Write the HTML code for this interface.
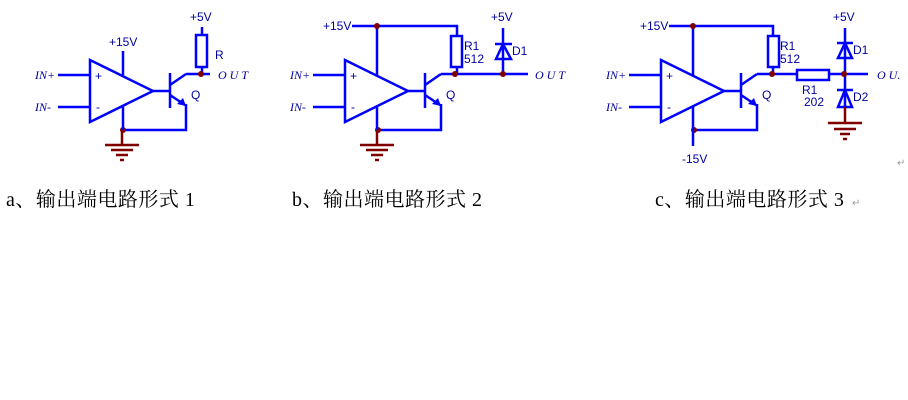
<!DOCTYPE html>
<html><head><meta charset="utf-8"><style>
html,body{margin:0;padding:0;background:#fff;width:908px;height:400px;overflow:hidden}
svg{display:block}
.w{stroke:#0000ff;stroke-width:2.5;fill:none}
.g{stroke:#800000;stroke-width:2.5;fill:none}
.t{font-family:"Liberation Sans",sans-serif;font-size:12px;fill:#0000a0}
.i{font-family:"Liberation Serif",serif;font-style:italic;font-size:12px;fill:#0000a0}
.c{font-family:"Liberation Serif","Noto Serif CJK SC",serif;font-size:20px;fill:#000;letter-spacing:0.5px}
</style></head><body>
<svg width="908" height="400" viewBox="0 0 908 400" xmlns="http://www.w3.org/2000/svg">
<defs>
<g id="core">
<polygon class="w" points="90,60 90,122 153,91"/>
<line class="w" x1="58" y1="75" x2="90" y2="75"/>
<line class="w" x1="58" y1="107" x2="90" y2="107"/>
<text class="i" x="35" y="79">IN+</text>
<text class="i" x="35" y="111">IN-</text>
<text class="t" x="95" y="80">+</text>
<text class="t" x="96" y="111">-</text>
<line class="w" x1="153" y1="91" x2="170" y2="91"/>
<line class="w" x1="170" y1="73" x2="170" y2="108"/>
<polyline class="w" points="170,85 186,74"/>
<polyline class="w" points="170,95 185,105"/>
<polygon points="186,106 177,104 183,98" fill="#0000ff"/>
<polyline class="w" points="186,104 186,130 123,130"/>
<text class="t" x="191" y="99">Q</text>
<circle cx="123" cy="130" r="3" fill="#800000"/>
</g>
<g id="gnd">
<line class="g" x1="0" y1="0" x2="0" y2="15"/>
<line class="g" x1="-17" y1="15" x2="17" y2="15"/>
<line class="g" x1="-11" y1="20" x2="11" y2="20"/>
<line class="g" x1="-6" y1="25" x2="6" y2="25"/>
<line class="g" x1="-2" y1="30" x2="2" y2="30"/>
</g>
</defs>

<use href="#core"/>
<text class="t" x="109" y="46">+15V</text>
<line class="w" x1="123" y1="51" x2="123" y2="75"/>
<line class="w" x1="123" y1="107" x2="123" y2="130"/>
<use href="#gnd" x="122" y="130"/>
<text class="t" x="190" y="21">+5V</text>
<line class="w" x1="202" y1="27" x2="202" y2="35"/>
<rect class="w" x="196" y="35" width="11" height="32"/>
<line class="w" x1="202" y1="67" x2="202" y2="74"/>
<line class="w" x1="186" y1="74" x2="210" y2="74"/>
<circle cx="201" cy="74" r="3" fill="#800000"/>
<text class="t" x="215" y="59">R</text>
<text class="i" x="218" y="79">O U T</text>

<use href="#core" x="255"/>
<text class="t" x="323" y="30">+15V</text>
<polyline class="w" points="352,26 457,26 457,36"/>
<line class="w" x1="377" y1="26" x2="377" y2="75"/>
<circle cx="377" cy="26" r="3" fill="#800000"/>
<rect class="w" x="451" y="36" width="11" height="31"/>
<line class="w" x1="457" y1="67" x2="457" y2="74"/>
<text class="t" x="464" y="50">R1</text>
<text class="t" x="464" y="63">512</text>
<line class="w" x1="441" y1="74" x2="528" y2="74"/>
<circle cx="455" cy="74" r="3" fill="#800000"/>
<text class="t" x="491" y="21">+5V</text>
<line class="w" x1="503" y1="28" x2="503" y2="74"/>
<line class="w" x1="495" y1="44" x2="512" y2="44"/>
<polygon class="w" points="503,44 496,59 511,59"/>
<text class="t" x="512" y="55">D1</text>
<circle cx="503" cy="74" r="3" fill="#800000"/>
<text class="i" x="535" y="79">O U T</text>
<line class="w" x1="377" y1="107" x2="377" y2="130"/>
<use href="#gnd" x="377" y="130"/>

<use href="#core" x="571"/>
<text class="t" x="640" y="30">+15V</text>
<polyline class="w" points="669,26 773,26 773,36"/>
<line class="w" x1="693" y1="26" x2="693" y2="75"/>
<circle cx="693" cy="26" r="3" fill="#800000"/>
<rect class="w" x="768" y="36" width="11" height="31"/>
<line class="w" x1="773" y1="67" x2="773" y2="74"/>
<text class="t" x="780" y="50">R1</text>
<text class="t" x="780" y="63">512</text>
<line class="w" x1="757" y1="74" x2="797" y2="74"/>
<rect class="w" x="797" y="70" width="32" height="10"/>
<line class="w" x1="829" y1="74" x2="868" y2="74"/>
<circle cx="772" cy="74" r="3" fill="#800000"/>
<text class="t" x="802" y="94">R1</text>
<text class="t" x="804" y="106">202</text>
<text class="t" x="833" y="21">+5V</text>
<line class="w" x1="845" y1="28" x2="845" y2="107"/>
<line class="w" x1="837" y1="43" x2="853" y2="43"/>
<polygon class="w" points="845,43 838,58 852,58"/>
<text class="t" x="853" y="54">D1</text>
<line class="w" x1="837" y1="90" x2="853" y2="90"/>
<polygon class="w" points="845,90 838,107 852,107"/>
<text class="t" x="853" y="101">D2</text>
<circle cx="844" cy="74" r="3" fill="#800000"/>
<text class="i" x="877" y="79">O U.</text>
<line class="g" x1="845" y1="107" x2="845" y2="123"/>
<line class="g" x1="828" y1="123" x2="862" y2="123"/>
<line class="g" x1="834" y1="129" x2="856" y2="129"/>
<line class="g" x1="840" y1="134" x2="850" y2="134"/>
<line class="g" x1="843" y1="139" x2="847" y2="139"/>
<line class="w" x1="693" y1="107" x2="693" y2="146"/>
<text class="t" x="682" y="163">-15V</text>
<text x="897" y="166" font-size="10" fill="#999" font-family="DejaVu Sans,sans-serif">↵</text>

<text class="c" x="6" y="206">a、输出端电路形式 1</text>
<text class="c" x="292" y="206">b、输出端电路形式 2</text>
<text class="c" x="655" y="206">c、输出端电路形式 3</text>
<text x="852" y="206" font-size="10" fill="#999" font-family="DejaVu Sans,sans-serif">↵</text>
</svg>
</body></html>
